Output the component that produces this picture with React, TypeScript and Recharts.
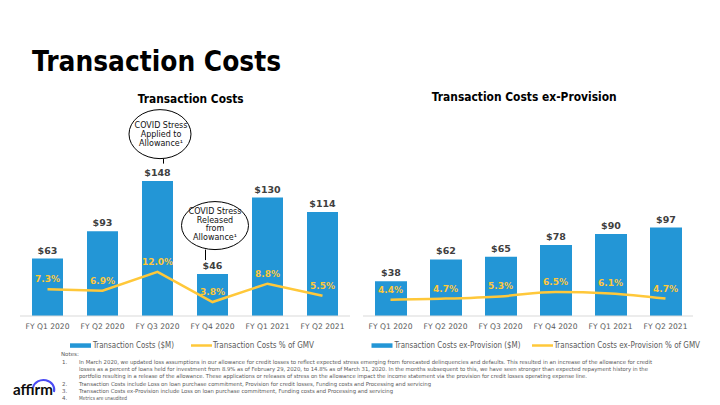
import { ComposedChart, Bar, Line, XAxis, YAxis, LabelList, ReferenceDot } from 'recharts'

const quarters = ['FY Q1 2020', 'FY Q2 2020', 'FY Q3 2020', 'FY Q4 2020', 'FY Q1 2021', 'FY Q2 2021']
const txnCosts = [63, 93, 148, 46, 130, 114]
const txnPct = [7.3, 6.9, 12.0, 3.8, 8.8, 5.5]
const exProvCosts = [38, 62, 65, 78, 90, 97]
const exProvPct = [4.4, 4.7, 5.3, 6.5, 6.1, 4.7]

const notes = [
  ['1.', 'In March 2020, we updated loss assumptions in our allowance for credit losses to reflect expected stress emerging from forecasted delinquencies and defaults. This resulted in an increase of the allowance for credit', 573],
  ['', 'losses as a percent of loans held for investment from 8.9% as of February 29, 2020, to 14.8% as of March 31, 2020. In the months subsequent to this, we have seen stronger than expected repayment history in the', 569],
  ['', 'portfolio resulting in a release of the allowance. These applications or releases of stress on the allowance impact the income statement via the provision for credit losses operating expense line.', 508],
  ['2.', 'Transaction Costs include Loss on loan purchase commitment, Provision for credit losses, Funding costs and Processing and servicing', 352],
  ['3.', 'Transaction Costs ex-Provision include Loss on loan purchase commitment, Funding costs and Processing and servicing', 314],
  ['4.', 'Metrics are unaudited', 48],
] as const

const BLUE = '#2396d6'
const GOLD = '#ffc83a'
const FONT = '"DejaVu Sans", Verdana, sans-serif'

// callout bubbles sitting above a bar (cx, cy = bar centre / bar top)
function appliedBubble({ cx, cy }: any) {
  const ex = cx + 2.5
  const ey = cy - 47
  return (
    <g>
      <line x1={cx + 6} x2={cx + 6} y1={ey + 24.5} y2={cy - 17.5} stroke="#000" strokeWidth={1} />
      <ellipse cx={ex} cy={ey} rx={31} ry={24.5} fill="#fff" stroke="#000" strokeWidth={1} />
      <text x={ex + 1} textAnchor="middle" fontSize={8} fontFamily={FONT} fill="#111">
        <tspan x={ex + 1} y={ey - 6}>COVID Stress</tspan>
        <tspan x={ex + 1} y={ey + 3}>Applied to</tspan>
        <tspan x={ex + 1} y={ey + 12}>Allowance¹</tspan>
      </text>
    </g>
  )
}

function releasedBubble({ cx, cy }: any) {
  const ex = cx + 2.5
  const ey = cy - 48.5
  return (
    <g>
      <line x1={cx - 7} x2={cx - 7} y1={ey + 24} y2={cy - 14} stroke="#000" strokeWidth={1} />
      <ellipse cx={ex} cy={ey} rx={33.5} ry={24} fill="#fff" stroke="#000" strokeWidth={1} />
      <text textAnchor="middle" fontSize={8} fontFamily={FONT} fill="#111">
        <tspan x={ex} y={ey - 11.5}>COVID Stress</tspan>
        <tspan x={ex} y={ey - 2.8}>Released</tspan>
        <tspan x={ex} y={ey + 5.8}>from</tspan>
        <tspan x={ex} y={ey + 14.3}>Allowance¹</tspan>
      </text>
    </g>
  )
}

interface TxnChartProps {
  costs: number[]
  pct: number[]
  left: number
  marginLeft: number
  barSize: number
  curved?: boolean
  pctMax: number
  bubbles?: boolean
}

function TxnChart({ costs, pct, left, marginLeft, barSize, curved, pctMax, bubbles }: TxnChartProps) {
  const data = quarters.map((q, i) => ({ q, cost: costs[i], pct: pct[i] }))
  return (
    <div style={{ position: 'absolute', left, top: 100 }}>
      <ComposedChart
        width={360}
        height={250}
        data={data}
        margin={{ top: 0, right: 360 - marginLeft - 330, left: marginLeft, bottom: 0 }}
        style={{ fontFamily: FONT }}
      >
        <XAxis
          dataKey="q"
          height={34}
          tickLine={false}
          axisLine={{ stroke: '#d9d9d9' }}
          tick={{ fill: '#595959', fontSize: 7.6 }}
          interval={0}
        />
        <YAxis yAxisId="bars" hide domain={[0, 237]} />
        <YAxis yAxisId="pct" hide orientation="right" domain={[0, pctMax]} />
        <Bar yAxisId="bars" dataKey="cost" fill={BLUE} barSize={barSize} isAnimationActive={false}>
          <LabelList
            dataKey="cost"
            position="top"
            offset={5}
            formatter={(v: any) => `$${v}`}
            fill="#404040"
            fontSize={9.5}
            fontWeight="bold"
          />
        </Bar>
        <Line
          yAxisId="pct"
          dataKey="pct"
          type={curved ? 'monotone' : 'linear'}
          stroke={GOLD}
          strokeWidth={2.5}
          dot={false}
          isAnimationActive={false}
        >
          <LabelList
            dataKey="pct"
            position="top"
            offset={7}
            formatter={(v: any) => `${Number(v).toFixed(1)}%`}
            fill={GOLD}
            fontSize={9}
            fontWeight="bold"
          />
        </Line>
        {bubbles && (
          <ReferenceDot yAxisId="bars" x={quarters[2]} y={costs[2]} ifOverflow="visible" shape={appliedBubble} />
        )}
        {bubbles && (
          <ReferenceDot yAxisId="bars" x={quarters[3]} y={costs[3]} ifOverflow="visible" shape={releasedBubble} />
        )}
      </ComposedChart>
    </div>
  )
}

function Legend({ x, barText, barLen, lineX, lineText, lineLen }: any) {
  return (
    <g fontFamily={FONT} fontSize={8} fill="#595959">
      <rect x={x} y={343.3} width={21} height={4.5} fill={BLUE} />
      <text x={x + 23} y={348} textLength={barLen} lengthAdjust="spacingAndGlyphs">{barText}</text>
      <line x1={lineX} x2={lineX + 21} y1={345.5} y2={345.5} stroke={GOLD} strokeWidth={2.5} />
      <text x={lineX + 22} y={348} textLength={lineLen} lengthAdjust="spacingAndGlyphs">{lineText}</text>
    </g>
  )
}

export default function App() {
  return (
    <div style={{ position: 'absolute', left: 0, top: 0, width: 720, height: 405, background: '#fff', overflow: 'hidden' }}>
      <svg width={720} height={405} style={{ position: 'absolute', left: 0, top: 0 }}>
        <text x={32} y={71} fontFamily={FONT} fontWeight="bold" fontSize={29} fill="#000" textLength={249} lengthAdjust="spacingAndGlyphs">
          Transaction Costs
        </text>
        <text x={137.7} y={102.7} fontFamily={FONT} fontWeight="bold" fontSize={11.5} fill="#000" textLength={106} lengthAdjust="spacingAndGlyphs">
          Transaction Costs
        </text>
        <text x={431.7} y={100.5} fontFamily={FONT} fontWeight="bold" fontSize={11.5} fill="#000" textLength={185} lengthAdjust="spacingAndGlyphs">
          Transaction Costs ex-Provision
        </text>
        <Legend x={70} barText="Transaction Costs ($M)" barLen={81} lineX={191} lineText="Transaction Costs % of GMV" lineLen={101} />
        <Legend x={371.5} barText="Transaction Costs ex-Provision ($M)" barLen={126} lineX={532} lineText="Transaction Costs ex-Provision % of GMV" lineLen={146} />
        <g fontFamily={FONT} fontSize={5.5} fill="#595959">
          <text x={61} y={356.3}>Notes:</text>
          {notes.map(([num, line, len], i) => (
            <g key={i}>
              {num && <text x={62} y={363.7 + i * 7.3}>{num}</text>}
              <text x={79} y={363.7 + i * 7.3} textLength={len} lengthAdjust="spacingAndGlyphs">{line}</text>
            </g>
          ))}
        </g>
        <text x={13} y={395} fontFamily="Lato, sans-serif" fontWeight="bold" fontSize={16} fill="#0b0b0b" textLength={40} lengthAdjust="spacingAndGlyphs">
          affirm
        </text>
        <path d="M 33 387.5 A 10.5 9.5 0 0 1 54 392" fill="none" stroke="#4a4af4" strokeWidth={2} />
      </svg>
      <TxnChart costs={txnCosts} pct={txnPct} left={0} marginLeft={20} barSize={31} pctMax={58.8} bubbles />
      <TxnChart costs={exProvCosts} pct={exProvPct} left={360} marginLeft={3} barSize={32} curved pctMax={58.4} />
    </div>
  )
}
